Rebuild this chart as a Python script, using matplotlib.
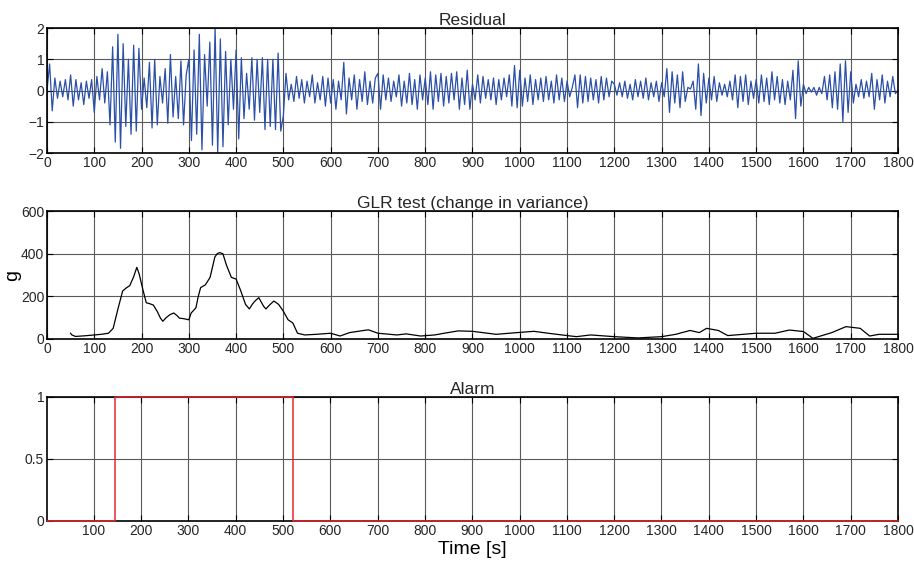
import numpy as np
import matplotlib.pyplot as plt

plt.rcParams['font.family'] = ['Liberation Sans', 'DejaVu Sans']
plt.rcParams['text.color'] = '#262626'
plt.rcParams['xtick.labelcolor'] = '#262626'
plt.rcParams['ytick.labelcolor'] = '#262626'

# residual: successive peaks/troughs in each 100 s block
residual_blocks = [
    [0.0, 0.85, -0.65, 0.4, -0.25, 0.3, -0.2, 0.35, -0.3, 0.5, -0.5, 0.35, -0.3, 0.25, -0.45, 0.3, -0.25, 0.35],
    [-0.7, 0.45, -0.3, 0.7, -0.4, 0.6, -1.1, 1.4, -1.65, 1.8, -1.85, 1.5, -1.15, 1.0, -1.4, 1.45, -1.3, 1.35],
    [-0.6, 0.4, -0.55, 0.9, -1.2, 1.0, -1.1, 0.45, -0.4, 0.7, -1.05, 1.15, -0.85, 0.45, -0.9, 0.95, -1.1, 0.5],
    [1.0, -1.6, 1.3, -1.4, 1.8, -1.9, 1.15, -0.5, 1.55, -1.75, 2.0, -2.0, 1.65, -1.8, 1.25, -1.1, 1.0, -0.6],
    [1.3, -1.55, 1.05, -0.9, 0.55, -0.6, 1.05, -0.95, 1.0, -0.7, 1.05, -1.25, 1.0, -1.15, 1.0, -1.25, 1.2, -1.3],
    [-0.8, 0.55, -0.3, 0.2, -0.35, 0.45, -0.25, 0.35, -0.4, 0.3, -0.2, 0.5, -0.4, 0.25, -0.3, 0.45, -0.5, 0.4],
    [-0.4, 0.35, -0.6, 0.3, -0.3, 0.9, -0.75, 0.4, -0.3, 0.5, -0.6, 0.35, -0.35, 0.6, -0.45, 0.3, -0.4, 0.4],
    [0.55, -0.6, 0.5, -0.3, 0.4, -0.35, 0.3, -0.2, 0.5, -0.5, 0.3, -0.4, 0.55, -0.45, 0.35, -0.6, 0.5, -0.3],
    [0.4, -0.45, 0.6, -0.6, 0.5, -0.35, 0.55, -0.5, 0.45, -0.4, 0.55, -0.3, 0.6, -0.6, 0.4, -0.45, 0.65, -0.6],
    [0.2, -0.3, 0.5, -0.4, 0.45, -0.25, 0.35, -0.3, 0.4, -0.45, 0.35, -0.3, 0.4, -0.2, 0.5, -0.5, 0.8, -0.55],
    [0.65, -0.5, 0.4, -0.35, 0.5, -0.45, 0.35, -0.3, 0.4, -0.35, 0.45, -0.3, 0.3, -0.4, 0.5, -0.3, 0.4, -0.35],
    [0.3, -0.2, 0.1, 0.5, -0.55, 0.5, -0.4, 0.45, -0.35, 0.4, -0.3, 0.35, -0.4, 0.45, -0.3, 0.4, -0.2, 0.3],
    [0.2, -0.15, 0.25, -0.2, 0.3, -0.25, 0.2, -0.3, 0.35, -0.2, 0.3, -0.25, 0.4, -0.3, 0.25, -0.2, 0.3, -0.35],
    [0.25, -0.2, 0.7, -0.7, 0.6, -0.4, 0.5, -0.55, 0.6, -0.35, 0.1, 0.05, 0.3, -0.6, 0.85, -0.8, 0.55, -0.4],
    [0.4, -0.3, 0.45, -0.35, 0.25, -0.15, 0.2, -0.2, 0.3, -0.3, 0.5, -0.55, 0.45, -0.35, 0.5, -0.45, 0.3, -0.25],
    [0.35, -0.4, 0.5, -0.35, 0.4, -0.45, 0.6, -0.3, 0.45, -0.4, 0.35, -0.45, 0.3, -0.3, 0.65, -0.9, 0.95, -0.5],
    [0.2, -0.1, 0.1, -0.05, 0.1, -0.15, 0.1, -0.1, 0.45, -0.3, 0.5, -0.55, 0.6, -0.6, 0.85, -1.0, 0.95, -0.7],
    [0.6, -0.4, 0.2, -0.2, 0.35, -0.25, 0.3, -0.2, 0.55, -0.6, 0.35, -0.3, 0.5, -0.4, 0.3, -0.2, 0.45, -0.1],
]

# GLR statistic (time, value)
glr_t = [50, 52, 60, 80, 100, 115, 130, 140, 150, 160, 168, 175, 183, 190, 195, 203, 210, 218, 225, 233,
         240, 245, 252, 260, 268, 275, 280, 290, 300, 305, 315, 320, 325, 335, 345, 355, 360, 365, 372,
         380, 390, 400, 410, 420, 428, 435, 440, 448, 458, 463, 472, 480, 490, 500, 510, 520, 530, 545,
         570, 600, 620, 640, 670, 680, 700, 740, 760, 790, 820, 840, 870, 900, 950, 1000, 1030, 1060,
         1100, 1120, 1150, 1200, 1250, 1300, 1330, 1360, 1380, 1395, 1420, 1440, 1500, 1540, 1570, 1600,
         1620, 1660, 1690, 1720, 1740, 1760, 1800]
glr_g = [27, 20, 12, 15, 19, 22, 27, 50, 140, 225, 240, 250, 290, 336, 305, 230, 170, 165, 159, 130,
         98, 83, 100, 114, 122, 110, 98, 95, 90, 122, 146, 200, 241, 254, 289, 384, 400, 405, 400,
         344, 289, 281, 225, 162, 141, 165, 178, 194, 154, 141, 162, 178, 162, 130, 90, 75, 27, 19,
         22, 27, 14, 30, 40, 43, 27, 19, 24, 14, 19, 27, 38, 36, 22, 31, 36, 27,
         16, 11, 19, 11, 5, 11, 22, 40, 30, 50, 40, 16, 27, 27, 42, 35,
         3, 30, 58, 50, 14, 22, 22]

# alarm switches on and off
alarm_on = 145
alarm_off = 522
t_end = 1800

res_t = []
res_v = []
for k, block in enumerate(residual_blocks):
    step = 100 / len(block)
    for i, v in enumerate(block):
        res_t.append(k * 100 + i * step)
        res_v.append(v)
res_t.append(t_end)
res_v.append(0.0)

alarm_t = [1, alarm_on, alarm_on, alarm_off, alarm_off, t_end]
alarm_v = [0, 0, 1, 1, 0, 0]

fig = plt.figure(figsize=(9.14, 5.65), dpi=100)
ax1 = fig.add_axes([0.0514, 0.7292, 0.9311, 0.2212])
ax2 = fig.add_axes([0.0514, 0.4000, 0.9311, 0.2265])
ax3 = fig.add_axes([0.0514, 0.0779, 0.9311, 0.2195])

for ax in (ax1, ax2, ax3):
    ax.grid(True, color='#5a5a5a', linewidth=0.8)
    ax.set_axisbelow(True)
    ax.tick_params(direction='in', top=True, right=True, labelsize=10, length=4, pad=2)
    for s in ax.spines.values():
        s.set_linewidth(1.2)

ax1.plot(res_t, res_v, color='#2b50a8', linewidth=0.9)
ax1.set_xlim(0, 1800)
ax1.set_ylim(-2, 2)
ax1.set_xticks(np.arange(0, 1801, 100))
ax1.set_yticks([-2, -1, 0, 1, 2])
ax1.set_title('Residual', fontsize=12.5, pad=2)

ax2.plot(glr_t, glr_g, color='black', linewidth=0.9)
ax2.set_xlim(0, 1800)
ax2.set_ylim(0, 600)
ax2.set_xticks(np.arange(0, 1801, 100))
ax2.set_yticks([0, 200, 400, 600])
ax2.set_ylabel('g', fontsize=14, labelpad=0)
ax2.set_title('GLR test (change in variance)', fontsize=12.5, pad=2)

# alarm drawn above the frame so the 0/1 levels stay visible
ax3.plot(alarm_t, alarm_v, color='#e8282d', linewidth=1.1, clip_on=False, zorder=3)
ax3.set_xlim(1, 1800)
ax3.set_ylim(0, 1)
ax3.set_xticks(np.arange(100, 1801, 100))
ax3.set_yticks([0, 0.5, 1])
ax3.set_yticklabels(['0', '0.5', '1'])
ax3.set_title('Alarm', fontsize=12.5, pad=2)
ax3.set_xlabel('Time [s]', fontsize=14, labelpad=2)

fig.savefig('out.png', dpi=100)
